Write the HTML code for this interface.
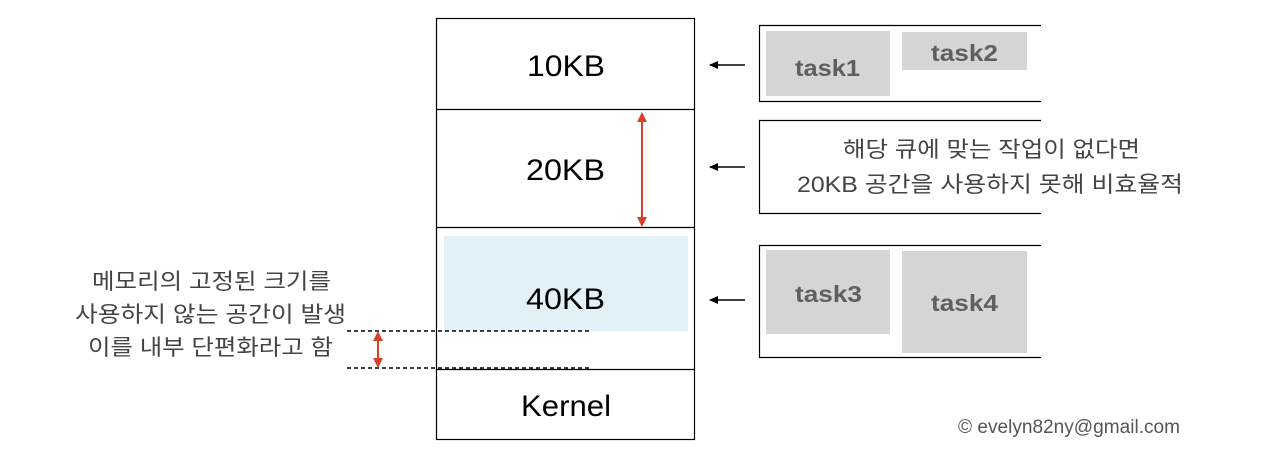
<!DOCTYPE html>
<html><head><meta charset="utf-8"><style>body{margin:0;background:#fff}svg{display:block}</style></head><body>
<svg width="1262" height="460" viewBox="0 0 1262 460" xmlns="http://www.w3.org/2000/svg" font-family="Liberation Sans, 'Noto Sans CJK KR', sans-serif">
<defs>
<marker id="ra" markerWidth="10" markerHeight="10" refX="8" refY="5" orient="auto-start-reverse" markerUnits="userSpaceOnUse"><path d="M0,0 L10,5 L0,10 z" fill="#d9402b"/></marker>
<marker id="ba" markerWidth="9" markerHeight="8" refX="8" refY="4" orient="auto" markerUnits="userSpaceOnUse"><path d="M0,0 L9,4 L0,8 z" fill="#000"/></marker>
</defs>
<rect x="444" y="236" width="244" height="95" fill="#e2f1f8"/>
<rect x="436.5" y="18.5" width="258" height="421" fill="none" stroke="#000" stroke-width="1.2"/>
<line x1="436" y1="109.5" x2="695" y2="109.5" stroke="#000" stroke-width="1.2"/>
<line x1="436" y1="227.5" x2="695" y2="227.5" stroke="#000" stroke-width="1.2"/>
<line x1="436" y1="369.5" x2="695" y2="369.5" stroke="#000" stroke-width="1.2"/>
<g font-size="30" fill="#000">
<text x="527" y="76" textLength="78" lengthAdjust="spacingAndGlyphs">10KB</text>
<text x="526" y="180" textLength="79" lengthAdjust="spacingAndGlyphs">20KB</text>
<text x="526" y="309" textLength="79" lengthAdjust="spacingAndGlyphs">40KB</text>
<text x="521" y="416" textLength="90" lengthAdjust="spacingAndGlyphs">Kernel</text>
</g>
<line x1="642" y1="114" x2="642" y2="225" stroke="#d9402b" stroke-width="2" marker-start="url(#ra)" marker-end="url(#ra)"/>
<line x1="347" y1="331" x2="590" y2="331" stroke="#000" stroke-width="1.5" stroke-dasharray="4,3"/>
<line x1="347" y1="368" x2="590" y2="368" stroke="#000" stroke-width="1.5" stroke-dasharray="4,3"/>
<line x1="378" y1="333" x2="378" y2="366" stroke="#d9402b" stroke-width="2" marker-start="url(#ra)" marker-end="url(#ra)"/>
<g stroke="#000" stroke-width="1.5">
<line x1="745" y1="65" x2="710" y2="65" marker-end="url(#ba)"/>
<line x1="745" y1="167" x2="710" y2="167" marker-end="url(#ba)"/>
<line x1="745" y1="300" x2="710" y2="300" marker-end="url(#ba)"/>
</g>
<g fill="none" stroke="#000" stroke-width="1.2">
<path d="M1041,25.5 H759.5 V101.5 H1041"/>
<path d="M1041,120.5 H759.5 V213.5 H1041"/>
<path d="M1041,245.5 H759.5 V357.5 H1041"/>
</g>
<g fill="#d5d5d5">
<rect x="766" y="31" width="124" height="65"/>
<rect x="902" y="32" width="125" height="38"/>
<rect x="766" y="250" width="124" height="84"/>
<rect x="902" y="251" width="125" height="102"/>
</g>
<g font-size="23" font-weight="bold" fill="#5f5f5f">
<text x="795" y="76" textLength="65" lengthAdjust="spacingAndGlyphs">task1</text>
<text x="931" y="61" textLength="67" lengthAdjust="spacingAndGlyphs">task2</text>
<text x="795" y="302" textLength="67" lengthAdjust="spacingAndGlyphs">task3</text>
<text x="931" y="311" textLength="67" lengthAdjust="spacingAndGlyphs">task4</text>
</g>
<g font-size="22" fill="#444">
<text x="843" y="157" textLength="297" lengthAdjust="spacingAndGlyphs">해당 큐에 맞는 작업이 없다면</text>
<text x="797" y="192" textLength="386" lengthAdjust="spacingAndGlyphs">20KB 공간을 사용하지 못해 비효율적</text>
</g>
<g font-size="22" fill="#444">
<text x="92" y="289" textLength="239" lengthAdjust="spacingAndGlyphs">메모리의 고정된 크기를</text>
<text x="75" y="322" textLength="271" lengthAdjust="spacingAndGlyphs">사용하지 않는 공간이 발생</text>
<text x="88" y="355" textLength="245" lengthAdjust="spacingAndGlyphs">이를 내부 단편화라고 함</text>
</g>
<text x="958" y="433" font-size="19" fill="#555" textLength="222" lengthAdjust="spacingAndGlyphs">© evelyn82ny@gmail.com</text>
</svg>
</body></html>
